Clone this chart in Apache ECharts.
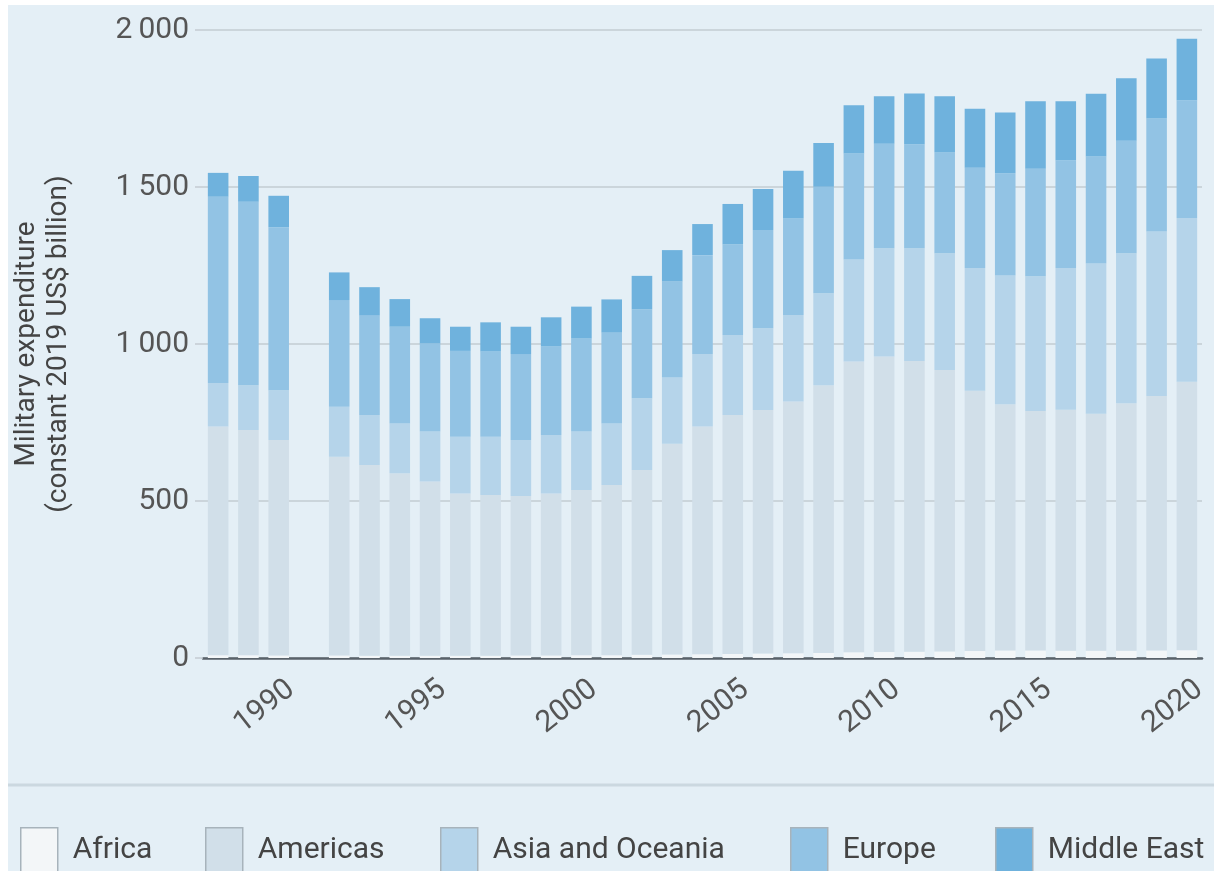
<!DOCTYPE html>
<html>
<head>
<meta charset="utf-8">
<script src="https://cdn.jsdelivr.net/npm/echarts@6/dist/echarts.min.js"></script>
<style>
html,body{margin:0;padding:0;background:#ffffff;}
#chart{width:1220px;height:871px;}
</style>
</head>
<body>
<div id="chart"></div>
<script>
const years = ['1988','1989','1990','1991','1992','1993','1994','1995','1996','1997','1998','1999','2000','2001','2002','2003','2004','2005','2006','2007','2008','2009','2010','2011','2012','2013','2014','2015','2016','2017','2018','2019','2020'];
const africa   = [9,9,8,'-',8,7,7,7,7,7,8,8,9,9,10,11,12,13,14,15,16,18,19,20,21,22,24,24,23,23,23,24,25];
const americas = [728,717,686,'-',633,608,581,555,517,512,508,516,526,542,589,671,725,761,776,802,853,926,941,926,896,829,784,763,768,755,788,810,855];
const asiaOceania = [139,143,159,'-',159,159,159,159,181,186,178,186,186,196,228,211,231,255,260,275,293,325,345,359,372,391,410,429,451,478,478,524,521];
const europe   = [593,584,519,'-',340,318,308,281,273,271,274,282,297,289,283,306,315,288,313,308,339,338,333,331,321,319,326,342,343,341,358,360,375];
const middleEast = [76,82,100,'-',88,89,88,80,77,93,87,93,101,106,107,100,99,129,131,152,139,153,151,162,179,188,193,215,188,200,199,191,196];
const seriesNames = ['Africa','Americas','Asia and Oceania','Europe','Middle East'];
const yTicks = [0,500,1000,1500,2000];

const colors = ['#f3f6f8','#d1dfe9','#b5d4ea','#92c3e4','#6fb2dd'];
const font = 'Roboto, "Liberation Sans", sans-serif';
const every5 = (i, v) => (+v) % 5 === 0;
const fmtNum = v => v >= 1000 ? String(v).replace(/^(\d)(\d{3})$/, '$1\u2009$2') : String(v);

const seriesData = [africa, americas, asiaOceania, europe, middleEast];
const legendLeft = [15, 200, 435, 785, 990];

const chart = echarts.init(document.getElementById('chart'));
chart.setOption({
  backgroundColor: '#ffffff',
  animation: false,
  textStyle: { fontFamily: font },
  graphic: [
    { type: 'rect', z: -10, shape: { x: 8, y: 5, width: 1206, height: 866 }, style: { fill: '#e4eff6' } },
    { type: 'line', z: -5, shape: { x1: 8, y1: 785, x2: 1214, y2: 785 }, style: { stroke: '#cbd8e0', lineWidth: 3 } }
  ],
  grid: { left: 203, right: 18, top: 30, bottom: 213 },
  legend: seriesNames.map((n, i) => ({
    data: [n],
    left: legendLeft[i],
    top: 822,
    icon: 'rect',
    itemWidth: 37,
    itemHeight: 46,
    itemGap: 0,
    textStyle: { fontSize: 30, color: '#444', fontFamily: font, padding: [0, 0, 0, 10] },
    itemStyle: { borderColor: '#a7b3bb', borderWidth: 1.5 }
  })),
  xAxis: {
    type: 'category',
    data: years,
    axisLine: { lineStyle: { color: '#59626a', width: 2.5 } },
    axisTick: { alignWithLabel: true, interval: every5, length: 10, lineStyle: { color: '#59626a', width: 2 } },
    axisLabel: { interval: every5, rotate: 38, fontSize: 30, color: '#555', margin: 38, padding: [0, -16, 0, 0], fontFamily: font }
  },
  yAxis: {
    type: 'value',
    min: 0, max: 2000, interval: 500,
    name: 'Military expenditure\n(constant 2019 US$ billion)',
    nameLocation: 'middle',
    nameGap: 128,
    nameRotate: 90,
    nameTextStyle: { fontSize: 28, color: '#444', lineHeight: 32, fontFamily: font },
    axisLine: { show: false },
    axisTick: { show: true, length: 8, lineStyle: { color: '#c3ccd2', width: 1.5 } },
    splitLine: { lineStyle: { color: '#c3ccd2', width: 1.5 } },
    axisLabel: { fontSize: 30, color: '#555', margin: 14, formatter: fmtNum, fontFamily: font }
  },
  series: seriesNames.map((n, i) => ({
    name: n,
    type: 'bar',
    stack: 'total',
    barWidth: '68%',
    itemStyle: { color: colors[i] },
    data: seriesData[i]
  }))
});
</script>
</body>
</html>
